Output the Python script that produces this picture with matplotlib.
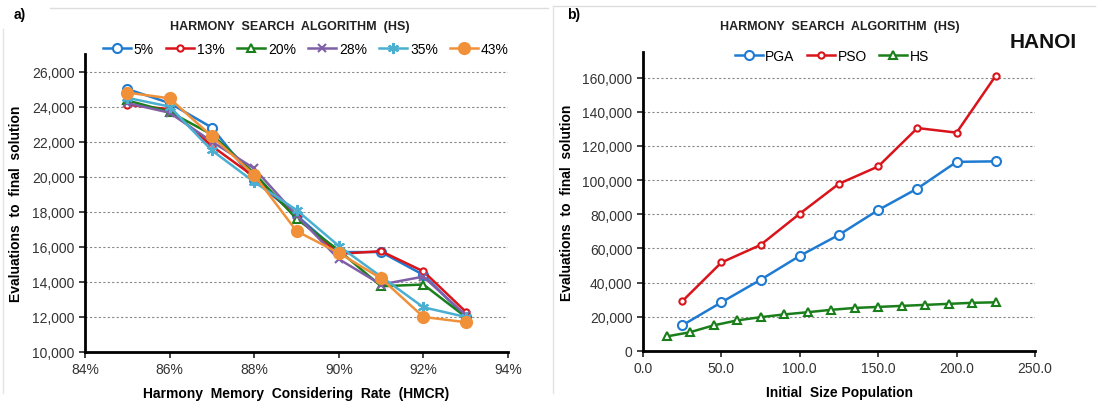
import matplotlib
matplotlib.use('Agg')
import matplotlib.pyplot as plt
from matplotlib.ticker import FuncFormatter

plt.rcParams['font.family'] = ['Liberation Sans', 'DejaVu Sans']

# ---- panel a) data ----
hmcr = [0.85, 0.86, 0.87, 0.88, 0.89, 0.90, 0.91, 0.92, 0.93]
par_labels = ['5%', '13%', '20%', '28%', '35%', '43%']
evals_5 = [25000, 24200, 22800, 19800, 17800, 15700, 15700, 14400, 12000]
evals_13 = [24100, 23850, 21750, 20000, 17700, 15600, 15750, 14600, 12300]
evals_20 = [24350, 23700, 22400, 20200, 17600, 15800, 13750, 13850, 12000]
evals_28 = [24200, 23650, 22000, 20470, 17800, 15300, 13850, 14300, 12100]
evals_35 = [24500, 24000, 21500, 19700, 18100, 16050, 14300, 12550, 12000]
evals_43 = [24800, 24470, 22300, 20100, 16900, 15650, 14200, 12000, 11700]

# ---- panel b) data ----
pop_pga = [25, 50, 75, 100, 125, 150, 175, 200, 225]
evals_pga = [15000, 28500, 41700, 55700, 68000, 82500, 95100, 110700, 111000]
pop_pso = [25, 50, 75, 100, 125, 150, 175, 200, 225]
evals_pso = [29100, 51800, 62100, 80400, 97900, 108000, 130500, 127800, 161200]
pop_hs = [15, 30, 45, 60, 75, 90, 105, 120, 135, 150, 165, 180, 195, 210, 225]
evals_hs = [8500, 11000, 15000, 17900, 19800, 21400, 22700, 24100, 25200,
            25800, 26400, 27000, 27600, 28200, 28500]

W, H = 1098, 402
fig = plt.figure(figsize=(W / 100, H / 100), dpi=100)


def style_axes(ax):
    for s in ['top', 'right']:
        ax.spines[s].set_visible(False)
    ax.spines['left'].set_linewidth(2)
    ax.spines['bottom'].set_linewidth(2)
    ax.tick_params(direction='out', length=4, width=1.2, labelsize=10,
                   colors='#222222', labelcolor='#333333')
    ax.grid(axis='y', color='#888888', linestyle=(0, (2, 2)), linewidth=0.8)
    ax.set_axisbelow(True)
    ax.yaxis.set_major_formatter(FuncFormatter(lambda v, p: f'{v:,.0f}'))


# ---- panel a ----
ax1 = fig.add_axes([85 / W, 1 - 353 / H, 423 / W, 298 / H])
style_axes(ax1)
series_a = [
    (evals_5, '#1F7BD1', 'o', 6.5, 'white'),
    (evals_13, '#D9141B', 'o', 4.5, 'white'),
    (evals_20, '#1A7F1A', '^', 5.5, 'white'),
    (evals_28, '#7F5FA8', 'x', 6, None),
    (evals_35, '#4AAFD0', (6, 2, 0), 8, None),
    (evals_43, '#F0913A', 'o', 8, '#F0913A'),
]
handles = []
for (vals, c, m, ms, fc), lab in zip(series_a, par_labels):
    kw = dict(color=c, lw=1.8, marker=m, markersize=ms, markeredgewidth=1.5,
              label=lab)
    if fc is not None:
        kw['markerfacecolor'] = fc
    h, = ax1.plot(hmcr, vals, **kw)
    handles.append(h)
ax1.set_xlim(0.84, 0.94)
ax1.set_ylim(10000, 27000)
ax1.set_xticks([0.84, 0.86, 0.88, 0.90, 0.92, 0.94])
ax1.set_yticks(range(10000, 26001, 2000))
ax1.xaxis.set_major_formatter(FuncFormatter(lambda v, p: f'{v * 100:.0f}%'))
ax1.set_xlabel('Harmony  Memory  Considering  Rate  (HMCR)', fontsize=10,
               fontweight='bold', labelpad=7)
ax1.set_ylabel('Evaluations  to  final  solution', fontsize=10,
               fontweight='bold', labelpad=6)
fig.legend(handles=handles, loc='center', bbox_to_anchor=(306 / W, 1 - 50 / H),
           ncol=6, frameon=False, fontsize=10, handlelength=2.0,
           columnspacing=0.9, handletextpad=0.2)
fig.text(290 / W, 1 - 27 / H, 'HARMONY  SEARCH  ALGORITHM  (HS)', ha='center',
         va='center', fontsize=9, fontweight='bold', color='#222222')
fig.text(14 / W, 1 - 15 / H, 'a)', ha='left', va='center', fontsize=10,
         fontweight='bold')

# ---- panel b ----
ax2 = fig.add_axes([643 / W, 1 - 352 / H, 392 / W, 299 / H])
style_axes(ax2)
hb = []
h, = ax2.plot(pop_pga, evals_pga, color='#1F7BD1', lw=1.8, marker='o',
              markersize=6.5, markerfacecolor='white', markeredgewidth=1.5,
              label='PGA')
hb.append(h)
h, = ax2.plot(pop_pso, evals_pso, color='#D9141B', lw=1.8, marker='o',
              markersize=4.5, markerfacecolor='white', markeredgewidth=1.5,
              label='PSO')
hb.append(h)
h, = ax2.plot(pop_hs, evals_hs, color='#1A7F1A', lw=1.8, marker='^',
              markersize=5.5, markerfacecolor='white', markeredgewidth=1.5,
              label='HS')
hb.append(h)
ax2.set_xlim(0, 250)
ax2.set_ylim(0, 175000)
ax2.set_xticks(range(0, 251, 50))
ax2.set_yticks(range(0, 160001, 20000))
ax2.xaxis.set_major_formatter(FuncFormatter(lambda v, p: f'{v:.1f}'))
ax2.set_xlabel('Initial  Size Population', fontsize=10, fontweight='bold',
               labelpad=7)
ax2.set_ylabel('Evaluations  to  final  solution', fontsize=10,
               fontweight='bold', labelpad=6)
fig.legend(handles=hb, loc='center', bbox_to_anchor=(832 / W, 1 - 57 / H),
           ncol=3, frameon=False, fontsize=10, handlelength=2.0,
           columnspacing=0.9, handletextpad=0.2)
fig.text(840 / W, 1 - 27 / H, 'HARMONY  SEARCH  ALGORITHM  (HS)', ha='center',
         va='center', fontsize=9, fontweight='bold', color='#222222')
fig.text(1043 / W, 1 - 42 / H, 'HANOI', ha='center', va='center', fontsize=15,
         fontweight='bold', color='#111111')
fig.text(567 / W, 1 - 15 / H, 'b)', ha='left', va='center', fontsize=10,
         fontweight='bold')

# faint panel frames
fig.add_artist(plt.Line2D([50 / W, 548 / W], [1 - 9 / H, 1 - 9 / H],
                          color='#dddddd', lw=1))
fig.add_artist(plt.Line2D([3 / W, 3 / W], [0.02, 1 - 30 / H],
                          color='#e4e4e4', lw=1))
fig.add_artist(plt.Line2D([553 / W, 1 - 3 / W], [1 - 7 / H, 1 - 7 / H],
                          color='#dddddd', lw=1))
fig.add_artist(plt.Line2D([553 / W, 553 / W], [0.02, 1 - 7 / H],
                          color='#e4e4e4', lw=1))

fig.savefig('out.png', dpi=100)
